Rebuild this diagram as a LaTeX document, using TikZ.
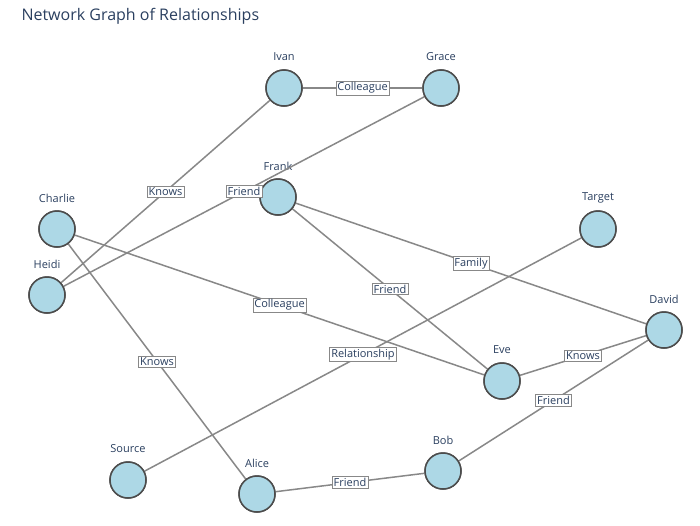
\documentclass[tikz,border=0pt]{standalone}
\usepackage{fontspec}
\setmainfont{Open Sans}
\begin{document}
\begin{tikzpicture}[x=1pt,y=-1pt,
  nd/.style={circle,draw=black!70,line width=1.5pt,fill=cyan!15!blue!10!white,fill={rgb,255:red,173;green,216;blue,230},minimum size=36pt,inner sep=0pt},
  ed/.style={draw={rgb,255:red,136;green,136;blue,136},line width=1.5pt},
  lb/.style={fill=white,draw={rgb,255:red,136;green,136;blue,136},line width=0.6pt,inner sep=1.5pt,font=\fontsize{11}{12}\selectfont,text={rgb,255:red,42;green,63;blue,95}},
  nm/.style={font=\fontsize{11}{12}\selectfont,text={rgb,255:red,42;green,63;blue,95}}]
\useasboundingbox (0,0) rectangle (700,525);
\node[anchor=west,font=\fontsize{16}{18}\selectfont,text={rgb,255:red,42;green,63;blue,95}] (title) at (18,16) {Network Graph of Relationships};
\foreach \n/\x/\y in {Ivan/284/88,Grace/441/88,Frank/278/197,Charlie/57/229,Heidi/47/295,Target/598/229,David/664/330,Eve/502/381,Source/128/480,Alice/257/494,Bob/443/471}{
  \node[nd] (\n) at (\x,\y) {};
  \node[nm] (\n-l) at (\x,\y-31) {\n};
}
\begin{scope}[on background layer/.style={}]
\end{scope}
\foreach \a/\b/\t in {Ivan/Grace/Colleague,Ivan/Heidi/Knows,Heidi/Grace/Friend,Charlie/Eve/Colleague,Charlie/Alice/Knows,Frank/David/Family,Frank/Eve/Friend,Source/Target/Relationship,Eve/David/Knows,Bob/David/Friend,Alice/Bob/Friend}{
  \path[ed] (\a) -- (\b) node[midway,lb] {\t};
}
\foreach \n/\x/\y in {Ivan/284/88,Grace/441/88,Frank/278/197,Charlie/57/229,Heidi/47/295,Target/598/229,David/664/330,Eve/502/381,Source/128/480,Alice/257/494,Bob/443/471}{
  \node[nd] at (\x,\y) {};
}
\foreach \a/\b/\t in {Ivan/Grace/Colleague,Ivan/Heidi/Knows,Heidi/Grace/Friend,Charlie/Eve/Colleague,Charlie/Alice/Knows,Frank/David/Family,Frank/Eve/Friend,Source/Target/Relationship,Eve/David/Knows,Bob/David/Friend,Alice/Bob/Friend}{
  \path (\a) -- (\b) node[midway,lb] {\t};
}
\end{tikzpicture}
\end{document}
